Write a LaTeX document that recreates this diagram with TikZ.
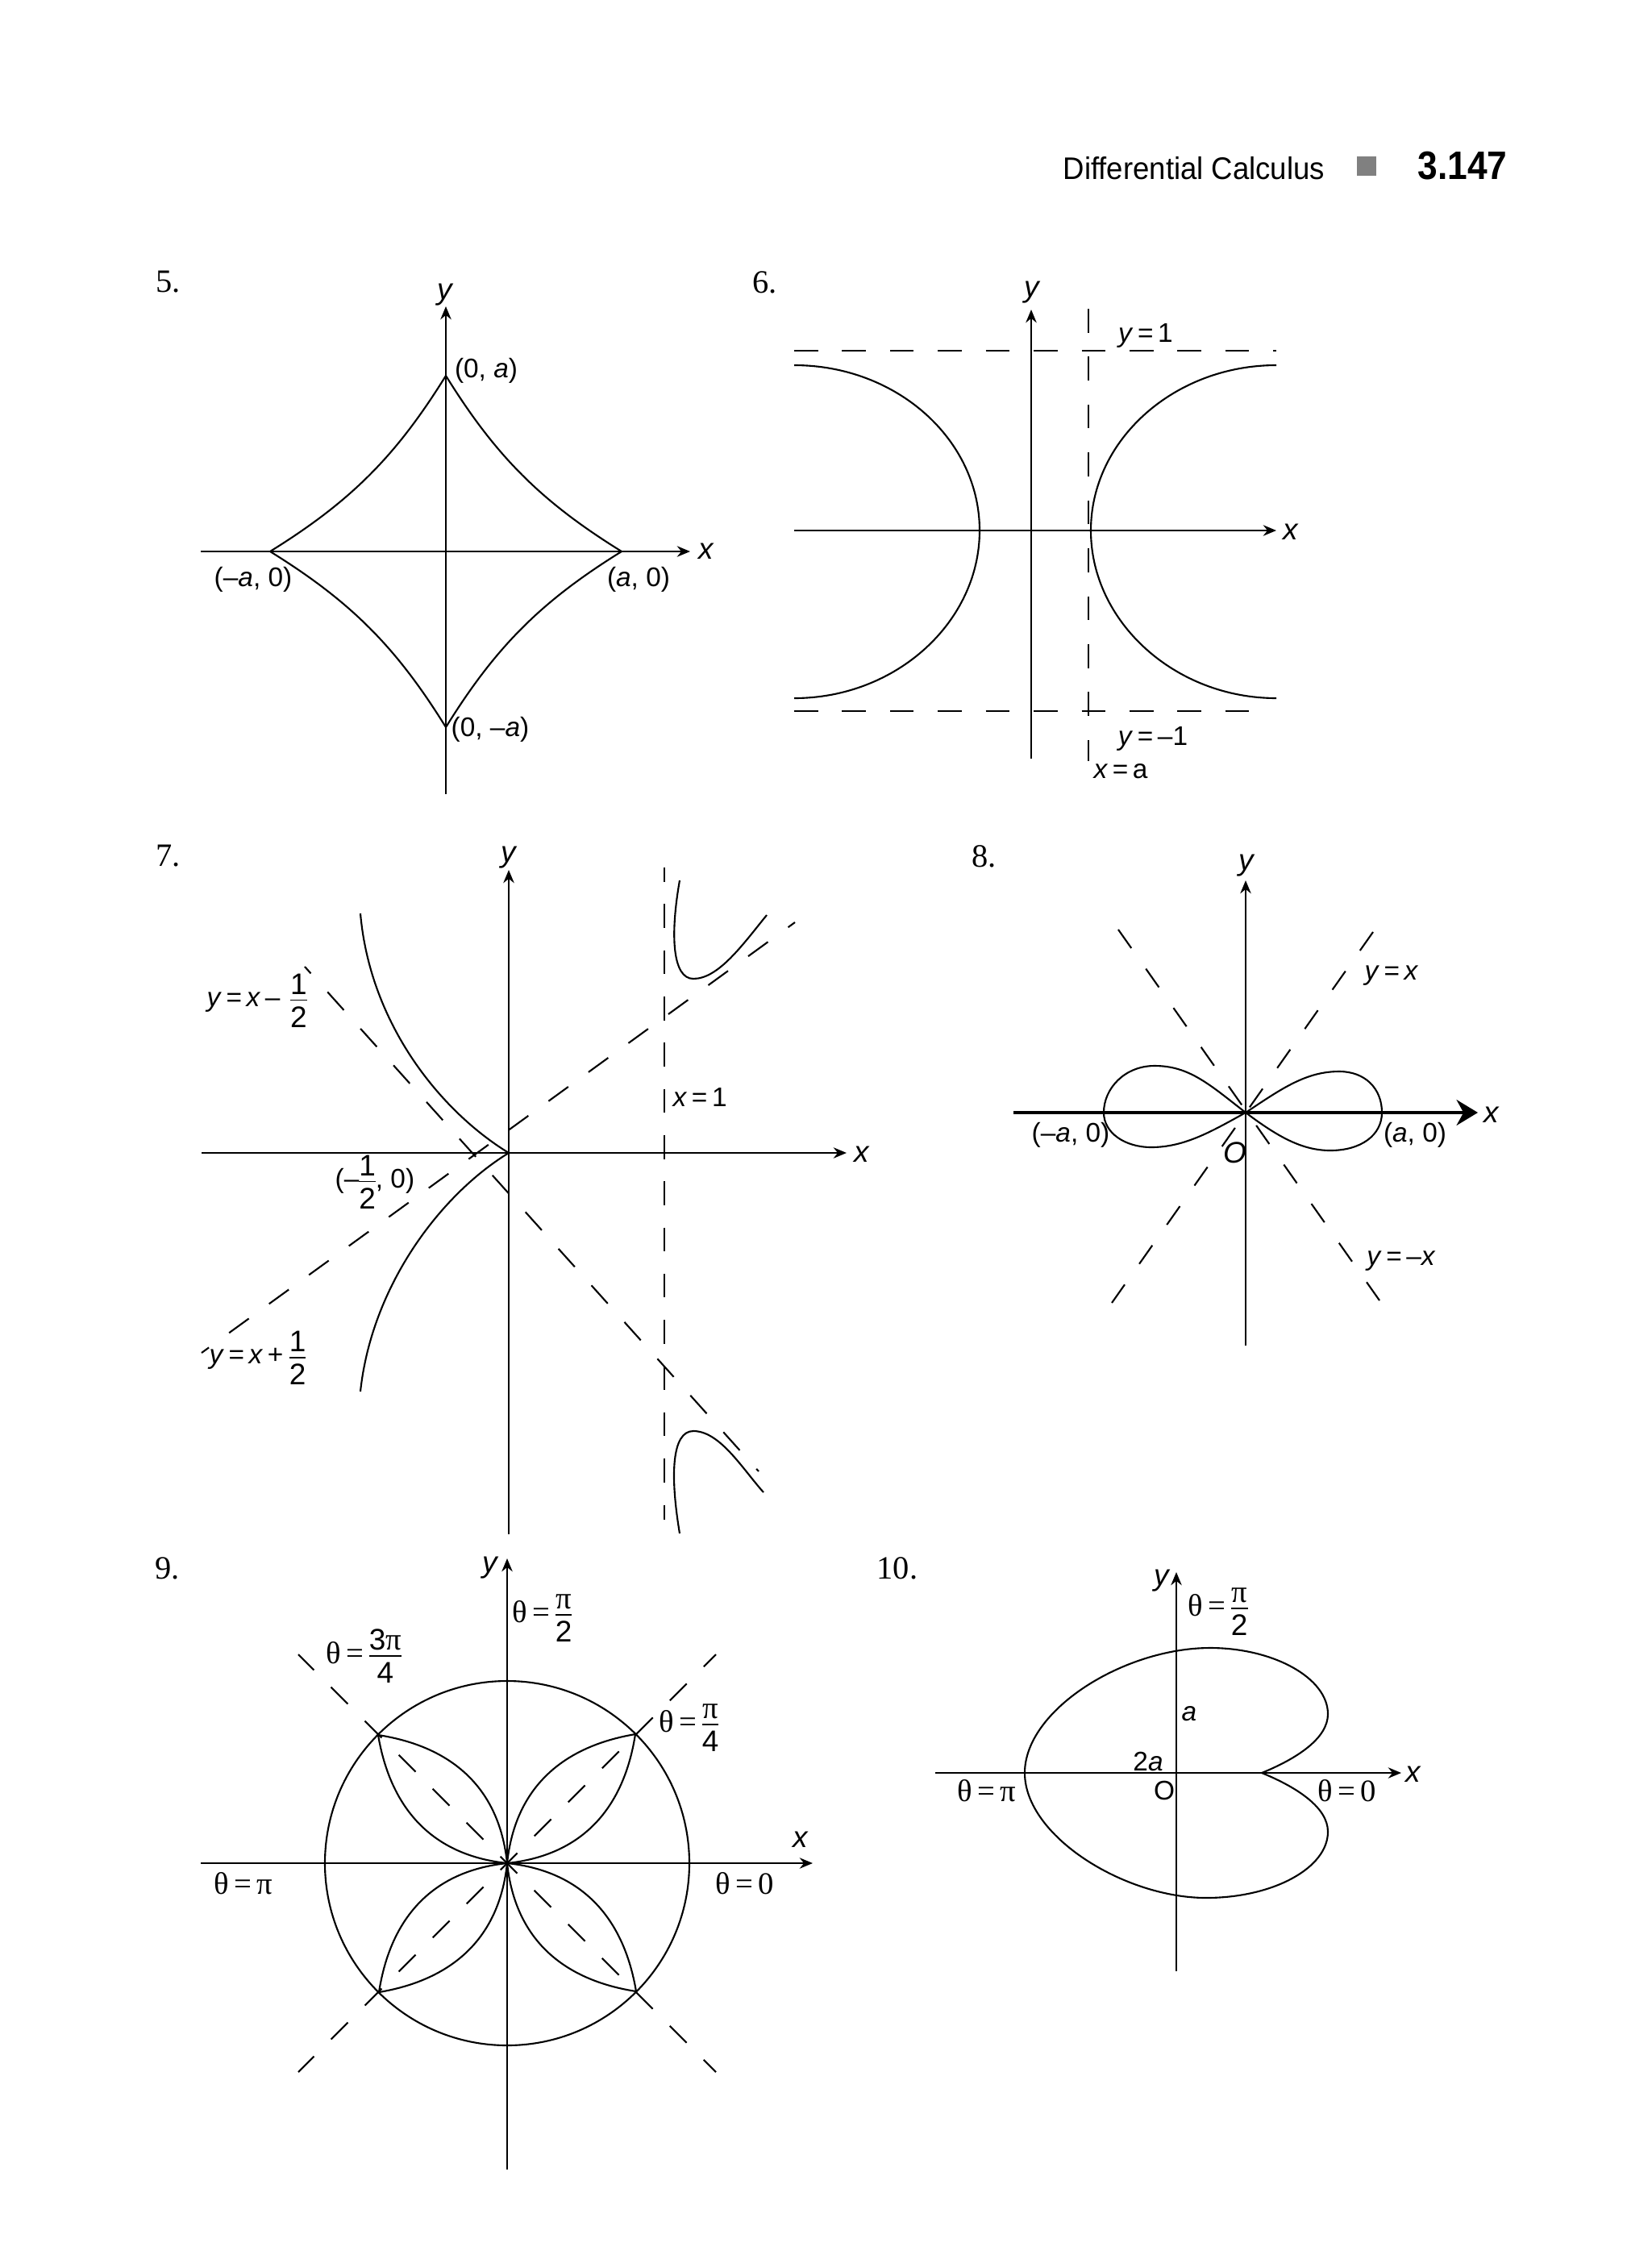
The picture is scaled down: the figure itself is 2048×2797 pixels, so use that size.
\documentclass[tikz,border=0pt]{standalone}
\usepackage{amsmath}
\usepackage{fontspec}
\setmainfont{Liberation Sans}
\newfontfamily\serf{Liberation Serif}
\usepackage{xcolor}
\usepackage{tikz}
\usetikzlibrary{arrows.meta}
\definecolor{squaregray}{HTML}{808080}
\newcommand{\frc}[2]{\ensuremath{\nulldelimiterspace=0pt\genfrac{}{}{0.55pt}{1}{\mbox{\fontsize{10.5}{12}\selectfont\rule[-1.3pt]{0pt}{1.3pt}#1}}{\mbox{\fontsize{10.5}{12}\selectfont\rule{0pt}{8.8pt}#2}}}}
\newcommand{\thq}{{\serf θ\,=\,}}
\newcommand{\pq}{{\serf\fontsize{11}{12}\selectfont π}}
\tikzset{
  lbl/.style={inner sep=0pt,font=\fontsize{9.5}{11}\selectfont},
  axlbl/.style={inner sep=0pt,font=\fontsize{10.5}{13}\selectfont\itshape},
  thetalbl/.style={inner sep=0pt,font=\fontsize{11}{13}\selectfont},
  numlbl/.style={inner sep=0pt,anchor=west,font=\fontsize{11.5}{13}\selectfont\serf},
  axisline/.style={line width=0.7pt,-{Stealth[length=4.6pt,width=3.8pt]}},
  curveline/.style={line width=0.6pt},
  dashline/.style={line width=0.6pt,dash pattern=on 8.4pt off 8.5pt}
}

\begin{document}
\begin{tikzpicture}[x=0.01cm,y=-0.01cm]
    \useasboundingbox (0,0) rectangle (2048,2797);

    % Running head
    \node[lbl,anchor=base west,xscale=0.945,font=\fontsize{11}{13}\selectfont] (headtext) at (1318,222) {Differential Calculus};
    \fill[squaregray] (1683,194) rectangle (1707,218);
    \node[lbl,anchor=base west,xscale=0.9,font=\fontsize{14}{16}\selectfont\bfseries] (headpage) at (1758,222) {3.147};

    % Figure numbers
    \foreach \n/\nx/\ny in {5/193/350,6/933/350,7/193/1062,8/1205/1062,9/192/1945,10/1087/1945} {
        \node[numlbl] (num\n) at (\nx,\ny) {\n.};
    }

    % Figure 5
    \draw[axisline] (249,684) -- (856,684);
    \draw[axisline] (553,985) -- (553,380);
    \begin{scope}[shift={(553,684)},yscale=-1]
        \draw[curveline] (0,218) .. controls (62,118) and (118,62) .. (218,0)
            .. controls (118,-62) and (62,-118) .. (0,-218)
            .. controls (-62,-118) and (-118,-62) .. (-218,0)
            .. controls (-118,62) and (-62,118) .. (0,218);
    \end{scope}
    \node[axlbl] (fiveY) at (552,366) {y};
    \node[axlbl] (fiveX) at (876,684) {x};
    \node[lbl] (fiveTop) at (603,460) {(0, \textit{a})};
    \node[lbl] (fiveLeft) at (314,719) {(–\textit{a}, 0)};
    \node[lbl] (fiveRight) at (792,719) {(\textit{a}, 0)};
    \node[lbl] (fiveBottom) at (608,905) {(0, –\textit{a})};

    % Figure 6
    \draw[axisline] (985,658) -- (1583,658);
    \draw[axisline] (1279,941) -- (1279,384);
    \draw[dashline] (985,435) -- (1583,435);
    \draw[dashline] (985,882) -- (1550,882);
    \draw[dashline] (1350,383) -- (1350,944);
    \begin{scope}[shift={(1279,658)},yscale=-1]
        \draw[curveline] (-294,205) .. controls (-167,205) and (-64,113) .. (-64,0)
            .. controls (-64,-113) and (-167,-208) .. (-294,-208);
        \draw[curveline] (304,205) .. controls (178,205) and (74,113) .. (74,0)
            .. controls (74,-113) and (178,-208) .. (304,-208);
    \end{scope}
    \node[axlbl] (sixY) at (1280,363) {y};
    \node[axlbl] (sixX) at (1601,660) {x};
    \node[lbl] (sixUp) at (1421,416) {\textit{y}\,=\,1};
    \node[lbl] (sixDown) at (1430,916) {\textit{y}\,=\,–1};
    \node[lbl] (sixA) at (1390,957) {\textit{x}\,=\,a};

    % Figure 7
    \draw[axisline] (250,1430) -- (1050,1430);
    \draw[axisline] (631,1903) -- (631,1079);
    \draw[dashline,dash pattern=on 8.4pt off 7.9pt,dash phase=3.4pt] (824,1076) -- (824,1885);
    \begin{scope}[shift={(631,1430)},yscale=-1]
        \draw[dashline,dash pattern=on 8.6pt off 8.8pt,dash phase=5.4pt] (-381,-248) -- (355,286);
        \draw[dashline,dash pattern=on 8.6pt off 8.8pt,dash phase=5.4pt] (-253,231) -- (310,-395);
        \draw[curveline] (-184,297) .. controls (-172,160) and (-85,52) .. (0,0)
            .. controls (-85,-52) and (-170,-165) .. (-184,-296);
        \draw[curveline] (212,338) .. controls (200,270) and (203,216) .. (229,216)
            .. controls (260,216) and (290,258) .. (320,295);
        \draw[curveline] (212,-472) .. controls (200,-400) and (202,-345) .. (229,-345)
            .. controls (262,-345) and (290,-392) .. (316,-421);
    \end{scope}
    \node[axlbl] (sevenY) at (631,1064) {y};
    \node[axlbl] (sevenX) at (1069,1432) {x};
    \node[lbl,anchor=west] (sevenMinus) at (256,1241) {\textit{y}\,=\,\textit{x}\,–\,\hspace{2pt}\frc{1}{2}};
    \node[lbl,anchor=west] (sevenPlus) at (259,1684) {\textit{y}\,=\,\textit{x}\,+\,\hspace{0.5pt}\frc{1}{2}};
    \node[lbl,anchor=west] (sevenPoint) at (415,1466) {(–\frc{1}{2}, 0)};
    \node[lbl,anchor=west] (sevenLine) at (834,1361) {\textit{x}\,=\,1};

    % Figure 8
    \draw[line width=1.2pt,-{Stealth[length=7.5pt,width=9pt]}] (1257,1380) -- (1833,1380);
    \draw[axisline] (1545,1669) -- (1545,1092);
    \begin{scope}[shift={(1545,1380)},yscale=-1]
        \draw[dashline,dash pattern=on 8pt off 8.9pt] (158,224) -- (-166,-236);
        \draw[dashline,dash pattern=on 8pt off 8.9pt] (-158,227) -- (166,-233);
        \draw[curveline] (0,0) .. controls (45,30) and (75,51) .. (116,51)
            .. controls (148,51) and (169,30) .. (169,0)
            .. controls (169,-28) and (143,-47) .. (105,-47)
            .. controls (70,-47) and (40,-30) .. (0,0)
            .. controls (-45,35) and (-70,58) .. (-113,58)
            .. controls (-150,58) and (-176,30) .. (-176,0)
            .. controls (-176,-25) and (-150,-43) .. (-117,-43)
            .. controls (-75,-43) and (-40,-22) .. (0,0);
    \end{scope}
    \node[axlbl] (eightY) at (1546,1074) {y};
    \node[axlbl] (eightX) at (1850,1383) {x};
    \node[lbl] (eightPos) at (1726,1210) {\textit{y}\,=\,\textit{x}};
    \node[lbl] (eightNeg) at (1738,1564) {\textit{y}\,=\,–\textit{x}};
    \node[lbl] (eightLeft) at (1328,1408) {(–\textit{a}, 0)};
    \node[lbl] (eightRight) at (1755,1408) {(\textit{a}, 0)};
    \node[axlbl] (eightO) at (1532,1430) {O};

    % Figure 9
    \draw[axisline] (249,2311) -- (1008,2311);
    \draw[axisline] (629,2691) -- (629,1933);
    \begin{scope}[shift={(629,2311)},yscale=-1]
        \draw[curveline] (0,0) circle (226);
        \draw[dashline,dash phase=2.3pt] (259,259) -- (-259,-259);
        \draw[dashline,dash phase=2.3pt] (259,-259) -- (-259,259);
        % Petals
        \foreach \r in {0,90,180,270} {
            \draw[curveline,rotate=\r] (0,0) .. controls (10,95) and (70,145) .. (159,160)
                .. controls (145,70) and (95,10) .. (0,0);
        }
    \end{scope}
    \node[axlbl] (nineY) at (608,1945) {y};
    \node[axlbl] (nineX) at (993,2282) {x};
    \node[thetalbl,anchor=west] (nineUp) at (635,2007) {\thq\frc{\pq}{2}};
    \node[thetalbl,anchor=west] (nineNW) at (404,2054) {\thq\frc{3\pq}{4}};
    \node[thetalbl,anchor=west] (nineNE) at (817,2143) {\thq\frc{\pq}{4}};
    \node[thetalbl] (nineLeft) at (302,2336) {\serf θ\,=\,π};
    \node[thetalbl] (nineRight) at (924,2336) {\serf θ\,=\,0};

    % Figure 10
    \draw[axisline] (1160,2199) -- (1738,2199);
    \draw[axisline] (1459,2445) -- (1459,1950);
    \begin{scope}[shift={(1459,2199)},yscale=-1]
        \draw[curveline] (106,0) .. controls (150,18) and (188,43) .. (188,73)
            .. controls (188,118) and (120,155) .. (42,155)
            .. controls (-65,155) and (-188,78) .. (-188,0)
            .. controls (-188,-78) and (-65,-155) .. (37,-155)
            .. controls (120,-155) and (188,-118) .. (188,-73)
            .. controls (188,-43) and (150,-18) .. (106,0) -- cycle;
    \end{scope}
    \node[axlbl] (tenY) at (1441,1961) {y};
    \node[axlbl] (tenX) at (1753,2201) {x};
    \node[thetalbl,anchor=west] (tenUp) at (1473,1999) {\thq\frc{\pq}{2}};
    \node[lbl] (tenA) at (1475,2126) {\textit{a}};
    \node[lbl] (tenTwoA) at (1424,2185) {2\textit{a}};
    \node[lbl] (tenO) at (1444,2221) {O};
    \node[thetalbl] (tenLeft) at (1224,2221) {\serf θ\,=\,π};
    \node[thetalbl] (tenRight) at (1671,2221) {\serf θ\,=\,0};
\end{tikzpicture}
\end{document}
